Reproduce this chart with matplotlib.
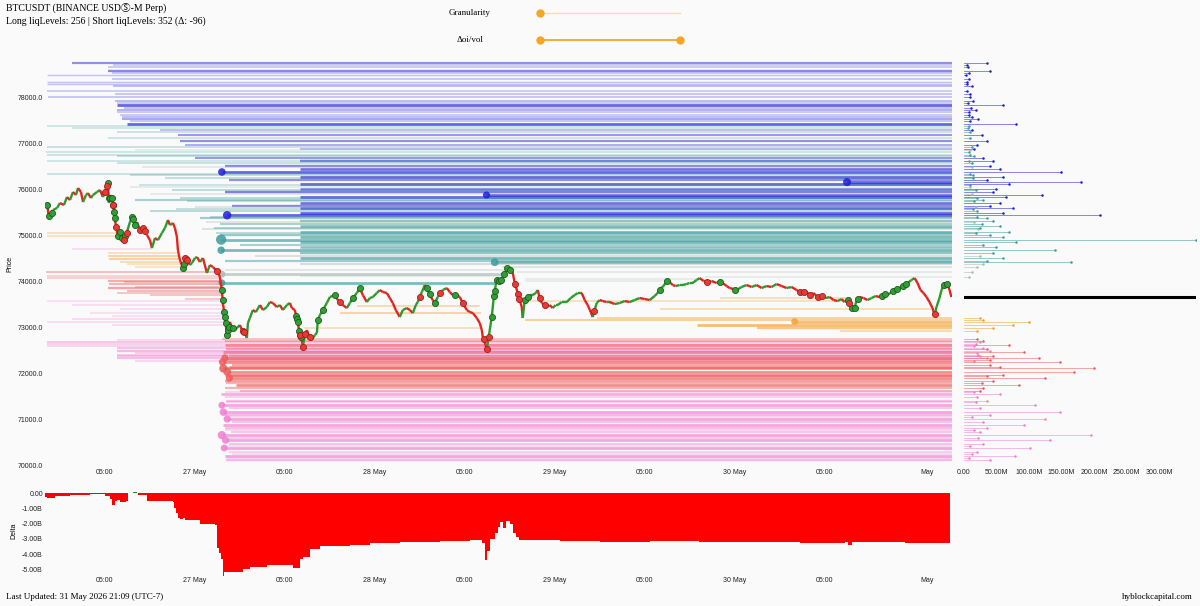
import numpy as np
import matplotlib
matplotlib.use('Agg')
import matplotlib.pyplot as plt
from matplotlib.collections import LineCollection
from matplotlib.colors import to_rgba
from matplotlib.ticker import FuncFormatter

# ---- price path (hours since start, USD) ----
price_hours = [0.27, 0.53, 1.07, 1.6, 2.0, 2.53, 2.93, 3.33, 3.73, 4.13, 4.4, 4.8, 5.07, 5.47, 5.73,
               6.13, 6.4, 6.93, 7.33, 7.73, 8.13, 8.4, 8.53, 8.8, 9.07, 9.33, 9.73, 10.13, 10.4, 10.93,
               11.33, 11.6, 12.0, 12.27, 12.67, 13.07, 13.6, 14.0, 14.27, 14.67, 15.07, 15.6, 16.0, 16.4,
               16.67, 17.07, 17.33, 17.6, 17.73, 18.0, 18.4, 18.67, 18.93, 19.33, 19.6, 20.0, 20.27, 20.67,
               21.07, 21.6, 22.0, 22.4, 22.8, 23.07, 23.33, 23.6, 23.73, 24.0, 24.13, 24.27, 24.4, 24.67,
               24.93, 25.33, 25.6, 26.0, 26.27, 26.67, 26.93, 27.07, 27.33, 27.73, 28.13, 28.67, 29.07,
               29.6, 30.0, 30.4, 30.93, 31.33, 31.73, 32.27, 32.67, 32.93, 33.33, 33.73, 34.0, 34.27, 34.4,
               34.67, 34.93, 35.33, 35.6, 36.0, 36.27, 36.4, 36.67, 37.07, 37.6, 38.0, 38.67, 39.07, 39.33,
               39.73, 40.27, 40.67, 41.07, 41.6, 42.0, 42.4, 42.93, 43.33, 43.73, 44.27, 44.67, 45.07, 45.6,
               46.0, 46.4, 46.8, 47.33, 47.73, 48.27, 48.67, 49.07, 49.47, 49.73, 50.27, 50.67, 51.07, 51.33,
               51.73, 52.0, 52.4, 52.67, 53.07, 53.6, 54.0, 54.4, 54.93, 55.33, 55.73, 56.27, 56.67, 57.07,
               57.6, 58.0, 58.27, 58.4, 58.67, 58.93, 59.2, 59.33, 59.6, 59.87, 60.13, 60.27, 60.67, 61.07,
               61.47, 61.73, 62.0, 62.27, 62.67, 63.07, 63.33, 63.6, 63.73, 64.0, 64.4, 64.67, 65.07, 65.47,
               65.73, 66.0, 66.27, 66.67, 66.93, 67.33, 67.73, 68.13, 68.4, 68.93, 69.6, 70.13, 70.67, 71.07,
               71.6, 72.0, 72.4, 72.8, 73.07, 73.33, 73.6, 74.0, 74.4, 74.93, 75.33, 76.0, 76.67, 77.33,
               78.0, 78.67, 79.33, 80.0, 80.67, 81.33, 81.73, 82.13, 82.4, 82.8, 83.07, 83.47, 83.73, 84.13,
               84.67, 85.07, 85.6, 86.0, 86.4, 86.93, 87.33, 87.87, 88.4, 88.93, 89.6, 90.0, 90.4, 90.93,
               91.33, 91.87, 92.27, 92.93, 93.6, 94.27, 94.93, 95.6, 96.27, 96.93, 97.6, 98.27, 98.93, 99.6,
               100.27, 100.93, 101.47, 102.0, 102.53, 103.07, 103.6, 104.13, 104.67, 105.2, 105.73, 106.27,
               106.67, 107.07, 107.47, 107.73, 108.0, 108.27, 108.67, 109.2, 109.73, 110.27, 110.8, 111.33,
               111.87, 112.4, 112.93, 113.47, 114.0, 114.53, 115.07, 115.6, 116.0, 116.4, 116.8, 117.2,
               117.6, 118.0, 118.4, 118.67, 118.93, 119.33, 119.6, 119.87, 120.13, 120.4, 120.67, 120.93]
price_values = [75696, 75370, 75543, 75587, 75696, 75652, 75826, 75761, 75935, 75870, 76022, 75935, 75717,
                75870, 75913, 75804, 75870, 75935, 75978, 75826, 75978, 76130, 75696, 75870, 75696, 75326,
                74957, 75109, 74848, 75065, 75283, 75391, 75217, 75283, 75109, 75152, 75000, 74891, 74717,
                74935, 74891, 75043, 75152, 75326, 75217, 75261, 75152, 74957, 74674, 74457, 74283, 74500,
                74457, 74348, 74391, 74500, 74522, 74413, 74500, 74174, 74348, 74304, 74239, 74196, 74087,
                73804, 73522, 73217, 73043, 72783, 72935, 73109, 73000, 72935, 72978, 73043, 72935, 72870,
                72761, 73087, 73196, 73370, 73326, 73478, 73370, 73435, 73543, 73522, 73435, 73478, 73370,
                73478, 73522, 73413, 73370, 73087, 72826, 72717, 72565, 72826, 72935, 72761, 72717, 72826,
                72870, 73152, 73261, 73370, 73522, 73652, 73696, 73587, 73543, 73478, 73413, 73522, 73630,
                73739, 73848, 73696, 73543, 73630, 73652, 73739, 73804, 73761, 73739, 73630, 73522, 73370,
                73217, 73370, 73413, 73370, 73304, 73478, 73543, 73761, 73913, 73804, 73696, 73587, 73522,
                73652, 73739, 73804, 73848, 73761, 73696, 73696, 73652, 73522, 73370, 73326, 73304, 73196,
                73087, 72935, 72783, 72674, 72500, 72783, 72935, 73217, 73652, 73913, 74022, 73978, 74087,
                74196, 74283, 74239, 74283, 73957, 73739, 73587, 73435, 73196, 73587, 73652, 73696, 73696,
                73739, 73804, 73630, 73522, 73478, 73435, 73478, 73413, 73478, 73478, 73543, 73543, 73630,
                73696, 73739, 73739, 73587, 73478, 73326, 73217, 73370, 73522, 73587, 73565, 73543, 73543,
                73500, 73522, 73565, 73543, 73587, 73630, 73609, 73587, 73674, 73739, 73848, 73870, 73957,
                74022, 73957, 73913, 73891, 73913, 73913, 73935, 73957, 73957, 74022, 74065, 74000, 73978,
                74000, 73957, 73978, 73957, 73891, 73848, 73826, 73804, 73870, 73913, 73870, 73913, 73848,
                73891, 73870, 73935, 73891, 73848, 73870, 73804, 73739, 73783, 73696, 73739, 73652, 73674,
                73630, 73652, 73587, 73565, 73609, 73543, 73587, 73478, 73370, 73413, 73587, 73652, 73630,
                73587, 73630, 73674, 73652, 73717, 73696, 73761, 73804, 73848, 73913, 73957, 74022, 74065,
                73957, 73804, 73739, 73652, 73543, 73413, 73261, 73435, 73630, 73804, 73913, 73957, 73935,
                73804, 73652]

# fills printed on the price path
green_fill_hours = [0.3, 0.5, 0.9, 8.4, 8.5, 8.7, 8.9, 9.1, 9.2, 9.3, 9.7, 10.0, 10.3, 10.7, 11.6, 11.7,
                    12.0, 18.4, 18.5, 18.8, 23.6, 23.7, 23.9, 24.0, 24.1, 24.3, 24.4, 24.5, 25.1, 33.5,
                    33.6, 33.7, 33.9, 34.0, 34.1, 36.4, 37.1, 38.7, 41.1, 42.0, 50.9, 51.3, 52.0, 54.7,
                    59.6, 59.9, 60.0, 60.3, 60.5, 60.8, 61.3, 61.7, 62.0, 64.0, 64.4, 82.0, 83.0, 90.0,
                    92.1, 107.1, 107.6, 108.0, 108.4, 111.6, 112.1, 113.1, 113.7, 114.4, 114.8, 119.9, 120.3]
red_fill_hours = [8.0, 8.3, 9.1, 9.5, 10.5, 10.9, 12.7, 13.1, 13.3, 18.7, 18.9, 22.9, 26.4, 26.5, 34.0,
                  34.4, 34.7, 35.3, 39.3, 50.0, 52.7, 55.7, 58.5, 58.9, 59.2, 62.7, 63.1, 63.3, 66.0, 66.7,
                  73.3, 88.3, 100.7, 101.3, 102.0, 103.1, 103.6, 107.3, 118.7]

# ---- short liquidation levels (above price) ----
short_price = [78740, 78660, 78570, 78480, 78400, 78330, 78240, 78140, 78000, 77920, 77820, 77720, 77620,
               77520, 77420, 77330, 77280, 77170, 77100, 77040, 76960, 76880, 76800, 76740, 76680, 76620,
               76560, 76500, 76440, 76370, 76310, 76260, 76200, 76150, 76100, 76050, 76000, 75940, 75870,
               75820, 75760, 75700, 75640, 75580, 75520, 75470, 75430, 75370, 75310, 75250, 75190, 75130,
               75070, 75010, 74950, 74900, 74850, 74790, 74730, 74670, 74610, 74550, 74490, 74430, 74410,
               74360, 74300, 74250, 74200, 74150, 74100, 73960, 74050, 73990, 74080,
               78700, 78520, 78280, 78060, 77870, 77770, 77670, 77570, 77470,
               77380, 77230, 76920, 76850, 76710, 76600, 76470, 76330, 76230, 76080, 75980, 75900, 75800,
               75730, 75620, 75560, 75400, 75280, 75160, 75040]
short_start = [3.6, 8.4, 8.4, 0.3, 9.0, 0.3, 9.1, 0.3, 0.4, 9.3, 9.6, 9.6, 10.0, 10.3, 11.0, 3.6, 15.3,
               17.7, 8.4, 18.0, 18.7, 34.0, 0.2, 0.3, 20.0, 34.0, 9.6, 24.0, 34.0, 23.6, 11.3, 34.0, 24.5,
               107.0, 34.0, 11.3, 34.0, 24.0, 58.9, 34.0, 12.0, 34.0, 25.0, 34.0, 14.0, 34.0, 24.3, 20.7,
               34.0, 23.3, 34.0, 21.0, 34.0, 23.3, 34.0, 23.5, 34.0, 26.0, 34.0, 23.5, 34.0, 28.0, 34.0,
               24.0, 60.0, 34.0, 61.0, 24.0, 63.0, 23.6, 34.0, 23.6, 64.0, 64.0, 88.0,
               9.1, 9.0, 0.3, 9.3, 9.6, 10.5, 9.6, 10.3, 11.3,
               0.3, 9.6, 0.3, 12.0, 9.6, 0.3, 13.0, 0.3, 16.0, 12.5, 17.0, 14.0, 18.0, 19.0, 20.0, 17.5,
               22.0, 21.5, 22.5, 22.8]
short_end = [121] * 67 + [61.5, 121, 61.4, 61.3, 60.1, 87.0, 83.0, 121] + [121] * 29
short_size = [35, 6, 40, 3, 8, 4, 12, 5, 9, 14, 60, 18, 7, 22, 80, 6, 12, 28, 9, 35, 20, 15, 8, 10, 30, 45,
              12, 40, 55, 150, 14, 60, 35, 180, 70, 10, 50, 45, 120, 65, 30, 55, 40, 75, 20, 60, 210, 35,
              45, 28, 55, 22, 70, 40, 60, 357, 80, 30, 50, 140, 45, 25, 60, 35, 165, 30, 20, 15, 12, 110,
              10, 105, 8, 6, 8,
              5, 7, 4, 9, 6, 11, 8, 12, 10,
              8, 10, 12, 9, 15, 8, 12, 10, 14, 10, 18, 12, 20, 15, 18, 14, 20, 16, 25, 18]
short_kind = ['b'] * 15 + ['t', 'b', 'b', 't', 'b', 'b', 'b', 't', 't', 'b', 'b', 't', 'b', 'b', 'b', 't',
              'b', 'b', 'b', 'b', 'g', 'b', 'b', 'b', 'b', 't', 'b', 'b', 'b', 't', 'b', 'b', 't', 't',
              't', 't', 'g', 't', 't', 't', 't', 't', 't', 't', 't', 't', 'g', 't', 't', 't', 'g', 'g',
              'g', 'g', 'g', 'g', 't', 'g', 'g', 'g'] + ['b'] * 9 + \
             ['t', 't', 't', 'g', 't', 't', 'g', 't', 't', 't', 't', 'g', 't', 't', 'g', 't', 't', 'g',
              't', 't']

# ---- long liquidation levels (below price) ----
long_price = [75050, 74980, 74700, 74550, 74480, 74420, 74300, 74200, 74120, 74000, 73930, 73850, 73780,
              73700, 73620, 73400, 73300, 73180, 73050, 72680, 72640, 72550, 72480, 72400, 72320, 72260,
              72740, 72600, 72520, 72460, 72380, 72330, 72240, 72180, 72100, 72030, 71960, 71890, 71820,
              71740, 71680, 71620, 71550, 71480, 71400, 71300, 71230, 71150, 71080, 71000, 70940, 70870,
              70800, 70720, 70650, 70540, 70460, 70370, 70290, 70200, 70100, 73450, 73300, 72980, 73200,
              73120, 73050, 72980, 72920, 73630, 73390, 73560, 73150,
              74620, 74380, 74060, 73980, 73880, 73740, 73560, 73480, 73250, 73120, 72720, 72590, 72440,
              72360, 72700, 72280, 72140, 71930, 71780, 71590, 71360, 71040, 70760, 70580, 70420, 70250,
              70150]
long_start = [0.3, 0.3, 3.6, 8.4, 8.6, 10.0, 12.0, 0.2, 0.3, 8.4, 8.6, 8.4, 11.0, 14.0, 18.7, 10.0, 6.0,
              3.6, 9.0, 0.3, 0.3, 9.6, 9.6, 9.6, 9.6, 12.0, 23.6, 24.0, 24.2, 23.8, 24.5, 24.0, 23.7, 25.0,
              23.8, 24.3, 24.0, 24.6, 24.0, 25.5, 24.0, 26.0, 23.5, 24.0, 24.2, 23.6, 24.5, 23.8, 24.0,
              24.3, 25.0, 23.7, 24.0, 24.8, 23.6, 24.1, 24.5, 23.9, 24.6, 24.0, 24.2, 41.6, 39.3, 34.5,
              73.6, 100.0, 87.0, 95.0, 106.0, 90.0, 82.0, 64.5, 64.0,
              8.4, 11.0, 0.3, 10.5, 12.0, 9.6, 0.3, 3.6, 9.0, 0.3, 9.6, 0.3, 12.0, 9.6, 24.0, 24.2, 24.5,
              25.0, 24.2, 24.0, 24.2, 24.5, 24.0, 24.6, 24.0, 25.0, 24.3]
long_end = [9.5, 9.7, 14.3, 17.8, 17.9, 18.1, 18.4, 23.1, 23.3, 23.4, 23.5, 23.6, 23.6, 23.6, 23.7, 23.8,
            23.9, 24.0, 24.1] + [121] * 42 + [58.0, 58.1, 58.3, 121, 121, 121, 121, 121, 107.5, 118.6,
                                                  107.4, 121] + \
           [17.7, 18.3, 23.4, 23.5, 23.6, 23.6, 23.7, 23.7, 23.9, 24.0, 24.2] + [121] * 16
long_size = [15, 12, 8, 25, 30, 18, 10, 22, 10, 35, 28, 40, 25, 20, 15, 8, 6, 10, 8, 25, 18, 30, 40, 22,
             35, 15, 20, 70, 35, 93, 45, 115, 148, 40, 200, 170, 60, 125, 45, 85, 30, 25, 55, 20, 35, 110,
             25, 148, 40, 125, 30, 93, 35, 25, 195, 133, 30, 102, 20, 79, 40, 20, 25, 15, 25, 100, 75, 45,
             20, 15, 18, 12, 30,
             14, 12, 12, 20, 15, 18, 6, 8, 5, 7, 12, 15, 20, 25, 30, 40, 55, 35, 28, 15, 18, 12, 15, 22,
             10, 12, 8]
long_kind = ['o', 'o', 'p', 'o', 'o', 'o', 'o'] + ['r'] * 8 + ['p'] * 11 + ['r'] * 16 + ['p'] * 19 + \
            ['o'] * 12 + ['o', 'o', 'r', 'r', 'r', 'r', 'p', 'p', 'p', 'p', 'p', 'p', 'p', 'p',
                          'r', 'r', 'r', 'r', 'r', 'p', 'p', 'p', 'p', 'p', 'p', 'p', 'p']

# ---- cumulative delta (hours, billions) ----
delta_hours = [0.0, 0.3, 0.7, 1.3, 2.0, 3.3, 4.7, 6.0, 7.3, 8.0, 8.7, 9.0, 9.3, 9.6, 10.0, 10.8, 11.1, 11.7,
               12.3, 12.4, 13.3, 13.6, 15.3, 17.1, 17.2, 17.5, 17.7, 18.0, 18.4, 18.7, 20.0, 20.7, 22.7,
               22.9, 23.2, 23.5, 23.7, 23.9, 25.3, 26.4, 27.3, 29.6, 32.7, 33.1, 33.5, 34.0, 34.4, 35.3,
               36.7, 40.7, 43.3, 47.3, 52.7, 56.7, 58.3, 58.7, 58.9, 59.3, 60.0, 60.4, 60.7, 61.1, 61.5,
               62.0, 62.4, 62.9, 63.3, 66.0, 68.7, 74.0, 80.7, 87.3, 94.0, 100.7, 106.7, 107.1, 107.6,
               114.0, 114.7, 120.7]
delta_values = [-0.25, -0.3, -0.28, -0.2, -0.15, -0.12, -0.08, -0.06, -0.05, -0.15, -0.35, -0.77, -0.5,
                -0.45, -0.55, -0.5, 0.03, 0.08, 0.03, -0.08, -0.12, -0.5, -0.5, -0.55, -1.0, -1.3, -1.65,
                -1.72, -1.6, -1.75, -1.75, -2.05, -2.1, -3.6, -3.9, -4.3, -5.45, -5.2, -5.15, -5.0, -4.85,
                -4.75, -4.75, -4.9, -4.95, -4.3, -4.2, -3.7, -3.5, -3.4, -3.3, -3.2, -3.15, -3.1, -3.3,
                -4.4, -3.8, -3.0, -2.6, -2.2, -1.9, -2.3, -1.8, -2.0, -2.6, -2.9, -3.1, -3.1, -3.15, -3.2,
                -3.15, -3.2, -3.2, -3.25, -3.2, -3.4, -3.2, -3.2, -3.3, -3.25]

tick_hours = [8, 20, 32, 44, 56, 68, 80, 92, 104, 117.7]
tick_labels = ['05:00', '27 May', '05:00', '28 May', '05:00', '29 May', '05:00', '30 May', '05:00', 'May']

BG = '#fafafa'
KIND_COLORS = {'b': '#1f1fd6', 't': '#3f9c9c', 'g': '#a9bab6',
               'o': '#f5a030', 'r': '#ef5a5a', 'p': '#f07fd2'}
SANS = ['Liberation Sans', 'DejaVu Sans']
SERIF = ['Liberation Serif', 'Noto Sans CJK JP', 'DejaVu Sans']
TEND = 121


def level_lines(ax, prices, starts, ends, sizes, kinds):
    segs, cols, widths = [], [], []
    for p, s, e, sz, k in zip(prices, starts, ends, sizes, kinds):
        f = min(sz / 60.0, 1.0)
        segs.append([(s, p), (e, p)])
        cols.append(to_rgba(KIND_COLORS[k], 0.22 + 0.45 * f))
        widths.append(1.0 + 1.0 * f)
    ax.add_collection(LineCollection(segs, colors=cols, linewidths=widths, zorder=1))
    big = [i for i, sz in enumerate(sizes) if sz >= 100]
    ax.scatter([starts[i] for i in big], [prices[i] for i in big],
               s=[12 + sizes[i] * 0.12 for i in big],
               c=[KIND_COLORS[kinds[i]] for i in big], alpha=0.85, lw=0, zorder=2)


def level_stems(ax, prices, ends, sizes, kinds):
    for p, e, sz, k in zip(prices, ends, sizes, kinds):
        if e < TEND:
            continue
        c = KIND_COLORS[k]
        ax.plot([0, sz * 1e6], [p, p], color=c, lw=0.5, alpha=0.75)
        ax.plot(sz * 1e6, p, 'o', color=c, ms=1.8, mew=0)


plt.rcParams['font.family'] = SANS
fig = plt.figure(figsize=(12, 6.06), dpi=100, facecolor=BG)

# overlay for header / footer in pixel coordinates
ov = fig.add_axes([0, 0, 1, 1])
ov.set_xlim(0, 1200)
ov.set_ylim(606, 0)
ov.axis('off')
ov.text(6, 8, 'BTCUSDT (BINANCE USDⓈ-M Perp)', family=SERIF, fontsize=7, va='center')
ov.text(6, 21, 'Long liqLevels: 256 | Short liqLevels: 352 (Δ: -96)', family=SERIF, fontsize=7, va='center')
ov.text(470, 13, 'Granularity', family=SERIF, fontsize=6.5, ha='center', va='center')
ov.text(470, 40, 'Δoi/vol', family=SERIF, fontsize=6.5, ha='center', va='center')
ov.plot([540, 680], [13, 13], color='#f7dcae', lw=1.0)
ov.plot([540], [13], 'o', color='#f5a623', ms=6, mew=0)
ov.plot([540, 680], [40, 40], color='#f5a623', lw=1.3)
ov.plot([540, 680], [40, 40], 'o', color='#f5a623', ms=6, mew=0)
ov.text(6, 597, 'Last Updated: 31 May 2026 21:09 (UTC-7)', family=SERIF, fontsize=6.5, va='center')
ov.text(1193, 597, 'hyblockcapital.com', family=SERIF, fontsize=6.5, ha='right', va='center')

# ---- main price / liquidation-level panel ----
ax = fig.add_axes([45 / 1200, 1 - 467 / 606, 907 / 1200, 407 / 606], facecolor=BG)
level_lines(ax, short_price, short_start, short_end, short_size, short_kind)
level_lines(ax, long_price, long_start, long_end, long_size, long_kind)

pts = np.column_stack([price_hours, price_values])
segs = np.stack([pts[:-1], pts[1:]], axis=1)
up = np.diff(price_values) >= 0
ax.add_collection(LineCollection(segs, colors=np.where(up, '#2e9a2e', '#e42420'), linewidths=1.7, zorder=3))
ax.plot(green_fill_hours, np.interp(green_fill_hours, price_hours, price_values), 'o',
        color='#2f9e34', mec='#1c5a1c', mew=0.6, ms=4.4, zorder=4)
ax.plot(red_fill_hours, np.interp(red_fill_hours, price_hours, price_values), 'o',
        color='#e83a34', mec='#9e1d1d', mew=0.6, ms=4.4, zorder=4)

ax.set_xlim(0, 121)
ax.set_ylim(69957, 78805)
ax.set_yticks(np.arange(70000, 78001, 1000))
ax.yaxis.set_major_formatter(FuncFormatter(lambda v, _: f'{v:.1f}'))
ax.set_xticks(tick_hours)
ax.set_xticklabels(tick_labels)
ax.set_ylabel('Price', fontsize=5, labelpad=3)
ax.tick_params(length=0, labelsize=5, pad=1.5, colors='#222222')
for s in ax.spines.values():
    s.set_visible(False)

# ---- right panel: level size by price ----
axr = fig.add_axes([964 / 1200, 1 - 467 / 606, 232 / 1200, 407 / 606], facecolor=BG)
level_stems(axr, short_price, short_end, short_size, short_kind)
level_stems(axr, long_price, long_end, long_size, long_kind)
axr.axhline(price_values[-1], color='black', lw=2.2)
axr.set_xlim(0, 357e6)
axr.set_ylim(69957, 78805)
axr.set_yticks([])
axr.set_xticks(np.arange(0, 300e6 + 1, 50e6))
axr.xaxis.set_major_formatter(FuncFormatter(lambda v, _: '0.00' if v == 0 else f'{v / 1e6:.2f}M'))
axr.tick_params(length=0, labelsize=5, pad=1.5, colors='#222222')
for s in axr.spines.values():
    s.set_visible(False)

# ---- delta panel ----
axd = fig.add_axes([45 / 1200, 1 - 575 / 606, 907 / 1200, 89 / 606], facecolor=BG)
dv = np.array(delta_values)
axd.fill_between(delta_hours, np.minimum(dv, 0), 0, step='post', color='#ff0000', lw=0)
axd.fill_between(delta_hours, np.maximum(dv, 0), 0, step='post', color='#1e8f1e', lw=0)
axd.set_xlim(0, 121)
axd.set_ylim(-5.38, 0.48)
axd.set_yticks([0, -1, -2, -3, -4, -5])
axd.yaxis.set_major_formatter(FuncFormatter(lambda v, _: '0.00' if v == 0 else f'{v:.2f}B'))
axd.set_xticks(tick_hours)
axd.set_xticklabels(tick_labels)
axd.set_ylabel('Delta', fontsize=5, labelpad=3)
axd.tick_params(length=0, labelsize=5, pad=1.5, colors='#222222')
for s in axd.spines.values():
    s.set_visible(False)

fig.savefig('out.png', dpi=100, facecolor=BG)
